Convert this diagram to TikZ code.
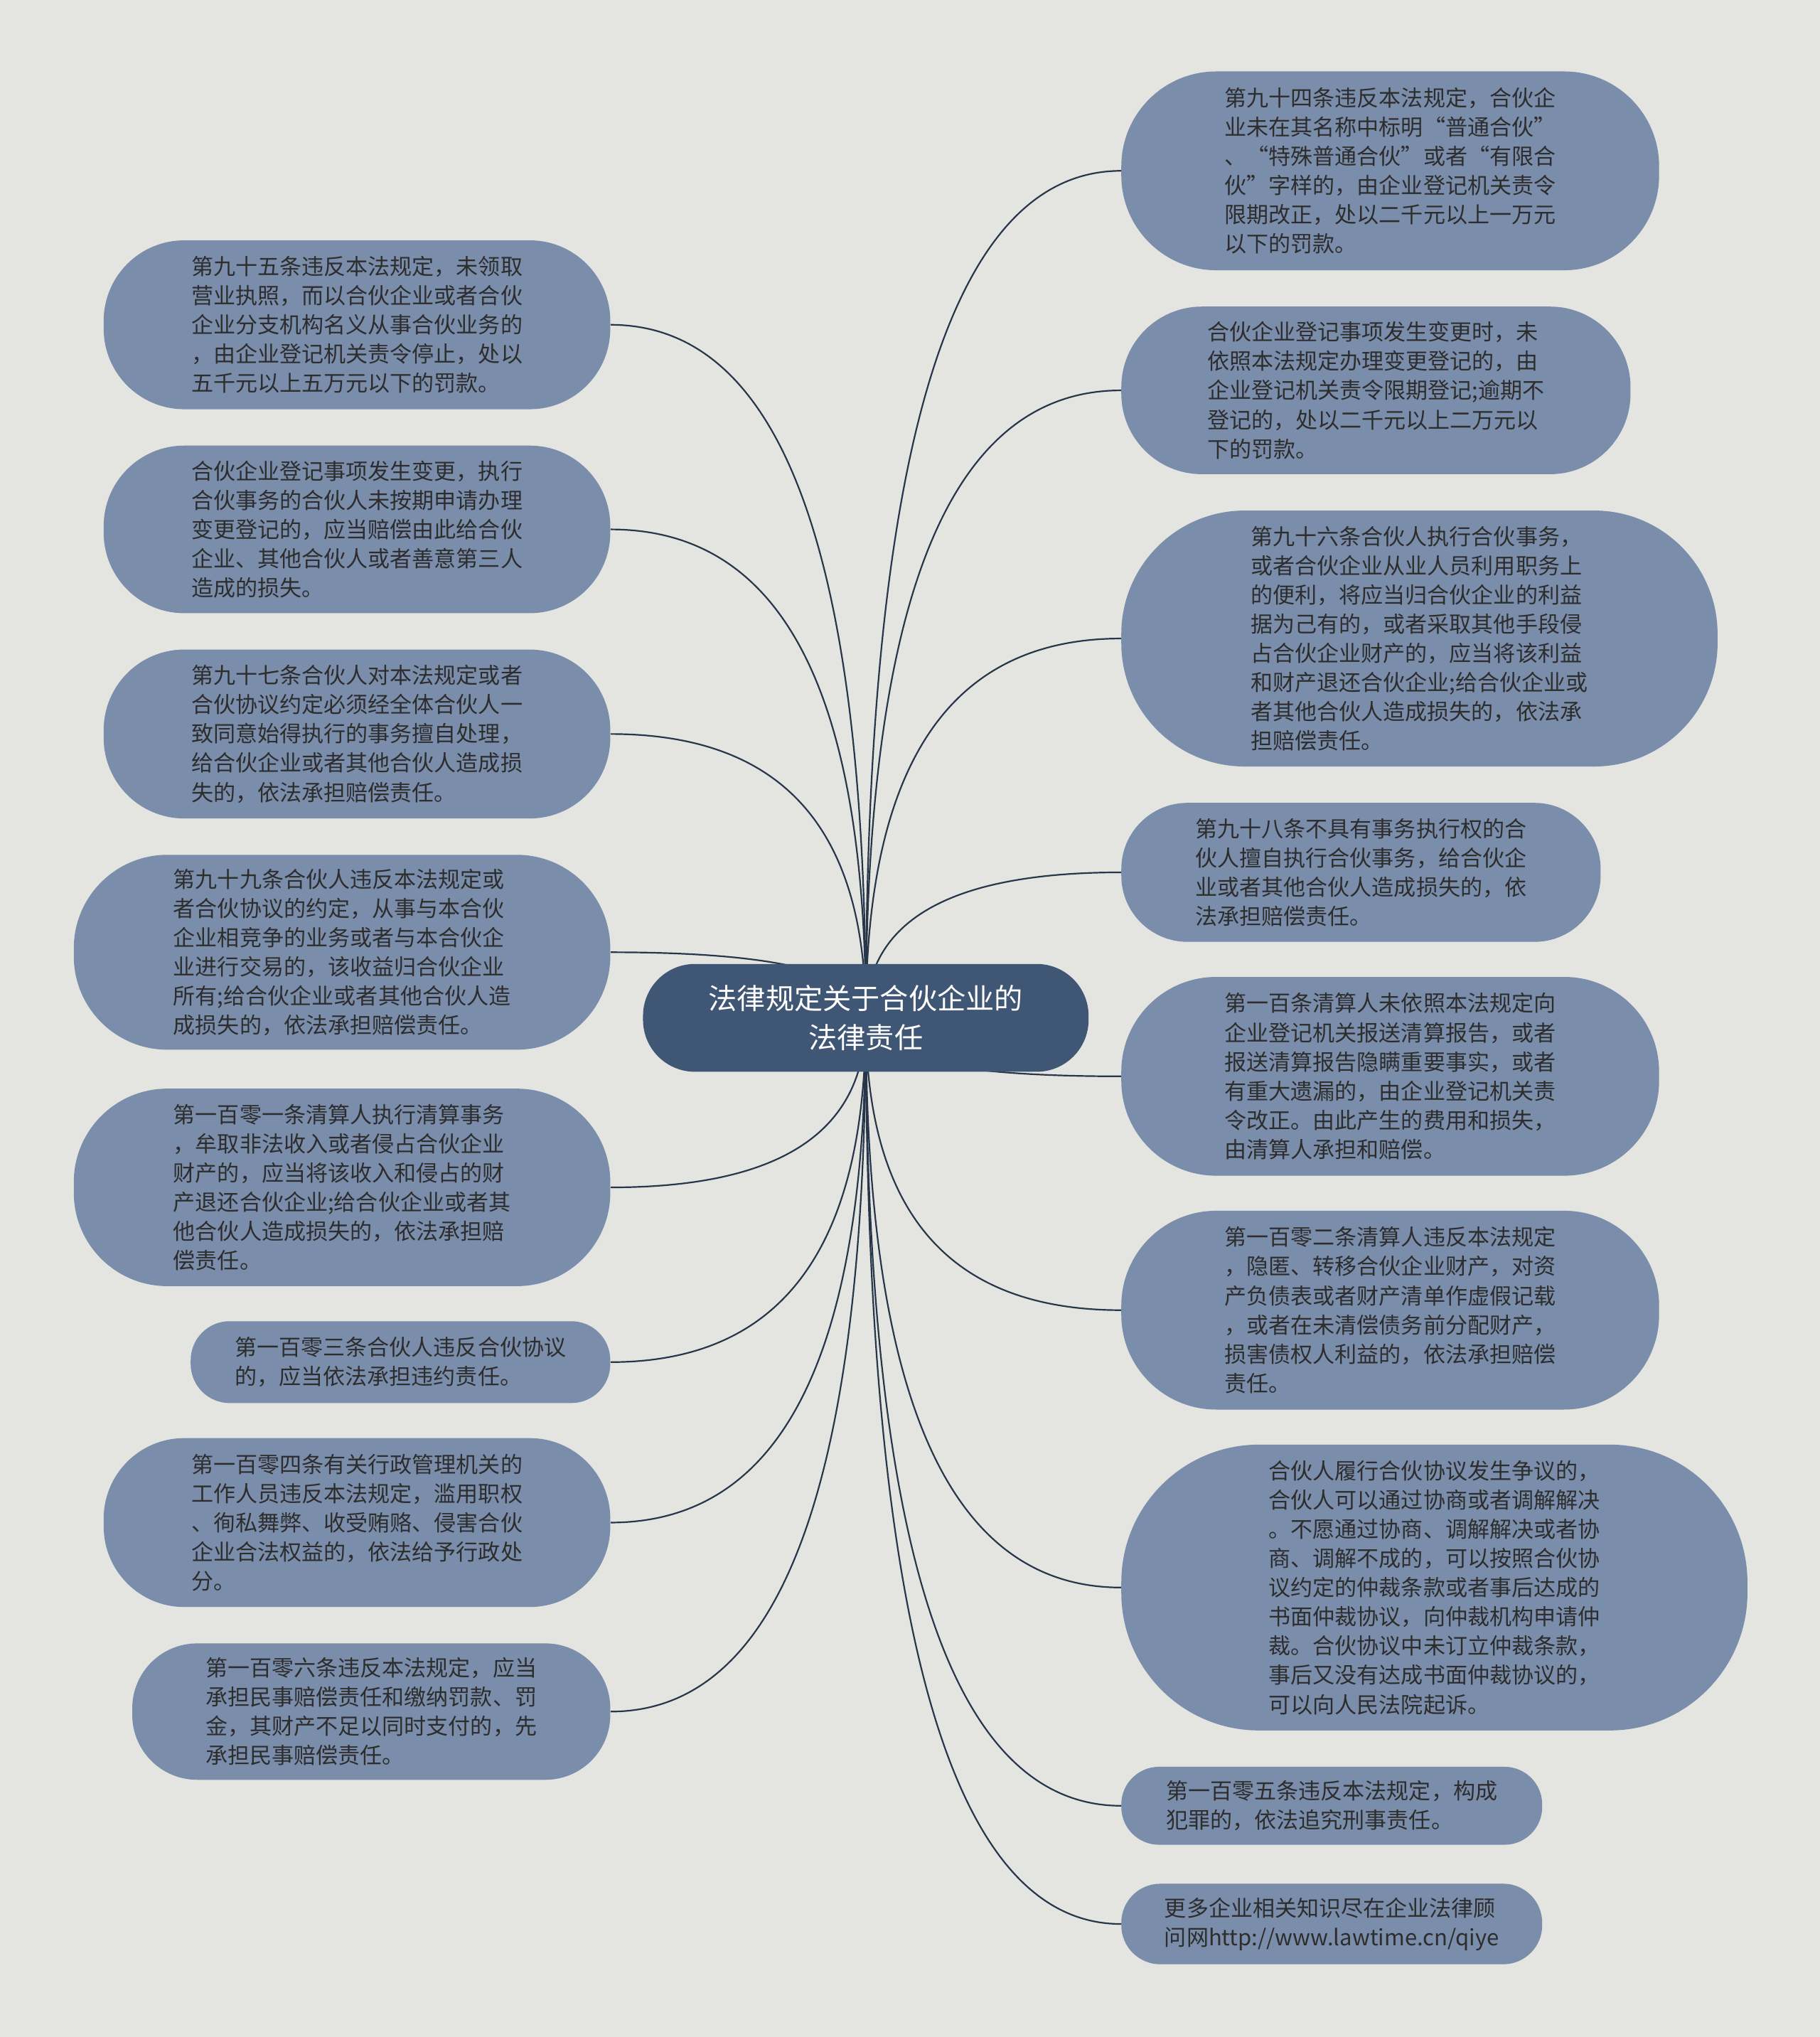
\documentclass[tikz,border=0pt]{standalone}
\usepackage{fontspec}
\setmainfont{Noto Sans CJK SC}
\usetikzlibrary{calc,backgrounds}

\definecolor{pagebg}{RGB}{228,228,224}
\definecolor{leaffill}{RGB}{122,141,171}
\definecolor{hubfill}{RGB}{63,86,117}
\definecolor{linkcol}{RGB}{40,54,74}
\definecolor{leaftext}{RGB}{45,45,45}

\begin{document}
\begin{tikzpicture}[
			x=1pt, y=-1pt,
			hub/.style={
				rectangle,
				rounded corners=40pt,
				fill=hubfill,
				text=white,
				minimum width=343pt,
				minimum height=83pt,
				align=center,
				font=\fontsize{22}{30}\selectfont
			},
			leaf/.style={
				rectangle,
				fill=leaffill,
				text=leaftext,
				align=left,
				inner sep=0pt,
				font=\fontsize{17}{22.5}\selectfont
			},
			link/.style={
				draw=linkcol,
				line width=1.2pt
			}
			]
			\useasboundingbox (0,0) rectangle (1401,1568);
			\node[hub] (hub) at (666.5,783.5) {法律规定关于合伙企业的\\法律责任};
			
			% left column
			\node[leaf, anchor=east, minimum width=390pt, minimum height=130pt, rounded corners=62pt] (l1) at (470,250) {第九十五条违反本法规定，未领取\\营业执照，而以合伙企业或者合伙\\企业分支机构名义从事合伙业务的\\，由企业登记机关责令停止，处以\\五千元以上五万元以下的罚款。};
			\node[leaf, anchor=east, minimum width=390pt, minimum height=129pt, rounded corners=62pt] (l2) at (470,407.5) {合伙企业登记事项发生变更，执行\\合伙事务的合伙人未按期申请办理\\变更登记的，应当赔偿由此给合伙\\企业、其他合伙人或者善意第三人\\造成的损失。};
			\node[leaf, anchor=east, minimum width=390pt, minimum height=130pt, rounded corners=62pt] (l3) at (470,565) {第九十七条合伙人对本法规定或者\\合伙协议约定必须经全体合伙人一\\致同意始得执行的事务擅自处理，\\给合伙企业或者其他合伙人造成损\\失的，依法承担赔偿责任。};
			\node[leaf, anchor=east, minimum width=413pt, minimum height=150pt, rounded corners=72pt] (l4) at (470,733) {第九十九条合伙人违反本法规定或\\者合伙协议的约定，从事与本合伙\\企业相竞争的业务或者与本合伙企\\业进行交易的，该收益归合伙企业\\所有;给合伙企业或者其他合伙人造\\成损失的，依法承担赔偿责任。};
			\node[leaf, anchor=east, minimum width=413pt, minimum height=152pt, rounded corners=72pt] (l5) at (470,914) {第一百零一条清算人执行清算事务\\，牟取非法收入或者侵占合伙企业\\财产的，应当将该收入和侵占的财\\产退还合伙企业;给合伙企业或者其\\他合伙人造成损失的，依法承担赔\\偿责任。};
			\node[leaf, anchor=east, minimum width=323pt, minimum height=63pt, rounded corners=30pt] (l6) at (470,1048.5) {第一百零三条合伙人违反合伙协议\\的，应当依法承担违约责任。};
			\node[leaf, anchor=east, minimum width=390pt, minimum height=130pt, rounded corners=62pt] (l7) at (470,1172) {第一百零四条有关行政管理机关的\\工作人员违反本法规定，滥用职权\\、徇私舞弊、收受贿赂、侵害合伙\\企业合法权益的，依法给予行政处\\分。};
			\node[leaf, anchor=east, minimum width=368pt, minimum height=105pt, rounded corners=50pt] (l8) at (470,1317.5) {第一百零六条违反本法规定，应当\\承担民事赔偿责任和缴纳罚款、罚\\金，其财产不足以同时支付的，先\\承担民事赔偿责任。};
			
			% right column
			\node[leaf, anchor=west, minimum width=414pt, minimum height=153pt, rounded corners=73pt] (r1) at (863,131.5) {第九十四条违反本法规定，合伙企\\业未在其名称中标明“普通合伙”\\、“特殊普通合伙”或者“有限合\\伙”字样的，由企业登记机关责令\\限期改正，处以二千元以上一万元\\以下的罚款。};
			\node[leaf, anchor=west, minimum width=392pt, minimum height=129pt, rounded corners=62pt] (r2) at (863,300.5) {合伙企业登记事项发生变更时，未\\依照本法规定办理变更登记的，由\\企业登记机关责令限期登记;逾期不\\登记的，处以二千元以上二万元以\\下的罚款。};
			\node[leaf, anchor=west, minimum width=459pt, minimum height=197pt, rounded corners=95pt] (r3) at (863,491.5) {第九十六条合伙人执行合伙事务，\\或者合伙企业从业人员利用职务上\\的便利，将应当归合伙企业的利益\\据为己有的，或者采取其他手段侵\\占合伙企业财产的，应当将该利益\\和财产退还合伙企业;给合伙企业或\\者其他合伙人造成损失的，依法承\\担赔偿责任。};
			\node[leaf, anchor=west, minimum width=369pt, minimum height=107pt, rounded corners=51pt] (r4) at (863,671.5) {第九十八条不具有事务执行权的合\\伙人擅自执行合伙事务，给合伙企\\业或者其他合伙人造成损失的，依\\法承担赔偿责任。};
			\node[leaf, anchor=west, minimum width=414pt, minimum height=153pt, rounded corners=73pt] (r5) at (863,828.5) {第一百条清算人未依照本法规定向\\企业登记机关报送清算报告，或者\\报送清算报告隐瞒重要事实，或者\\有重大遗漏的，由企业登记机关责\\令改正。由此产生的费用和损失，\\由清算人承担和赔偿。};
			\node[leaf, anchor=west, minimum width=414pt, minimum height=153pt, rounded corners=73pt] (r6) at (863,1008.5) {第一百零二条清算人违反本法规定\\，隐匿、转移合伙企业财产，对资\\产负债表或者财产清单作虚假记载\\，或者在未清偿债务前分配财产，\\损害债权人利益的，依法承担赔偿\\责任。};
			\node[leaf, anchor=west, minimum width=482pt, minimum height=220pt, rounded corners=106pt] (r7) at (863,1222) {合伙人履行合伙协议发生争议的，\\合伙人可以通过协商或者调解解决\\。不愿通过协商、调解解决或者协\\商、调解不成的，可以按照合伙协\\议约定的仲裁条款或者事后达成的\\书面仲裁协议，向仲裁机构申请仲\\裁。合伙协议中未订立仲裁条款，\\事后又没有达成书面仲裁协议的，\\可以向人民法院起诉。};
			\node[leaf, anchor=west, minimum width=324pt, minimum height=60pt, rounded corners=29pt] (r8) at (863,1390) {第一百零五条违反本法规定，构成\\犯罪的，依法追究刑事责任。};
			\node[leaf, anchor=west, minimum width=324pt, minimum height=62pt, rounded corners=30pt] (r9) at (863,1481) {更多企业相关知识尽在企业法律顾\\问网http://www.lawtime.cn/qiye};
			
			\begin{pgfonlayer}{background}
				\fill[pagebg] (0,0) rectangle (1401,1568);
				% curved links, vertical at the hub, level at the leaf
				\foreach \n in {l1,l2,l3,l4,l5,l6,l7,l8}{
					\coordinate (bend) at (hub.center |- \n.east);
					\draw[link] (hub.center) .. controls ($(hub.center)!0.67!(bend)$) and ($(\n.east)!0.67!(bend)$) .. (\n.east);
				}
				\foreach \n in {r1,r2,r3,r4,r5,r6,r7,r8,r9}{
					\coordinate (bend) at (hub.center |- \n.west);
					\draw[link] (hub.center) .. controls ($(hub.center)!0.67!(bend)$) and ($(\n.west)!0.67!(bend)$) .. (\n.west);
				}
			\end{pgfonlayer}
		\end{tikzpicture}
\end{document}
